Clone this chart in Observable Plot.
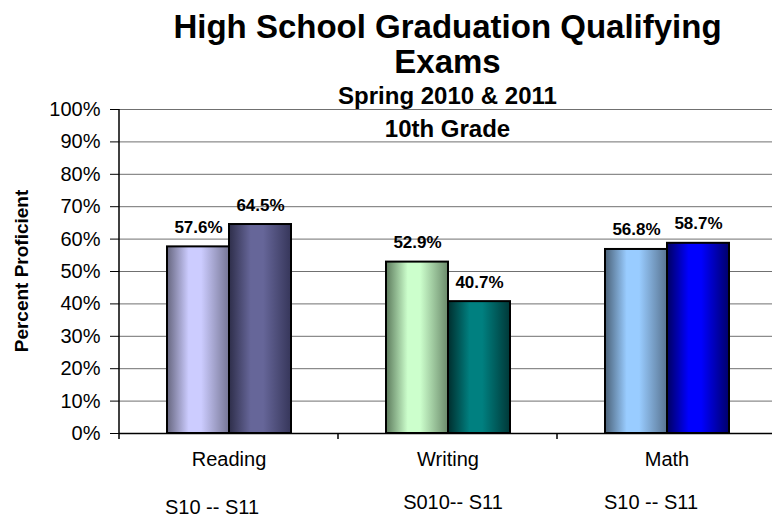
<!DOCTYPE html>
<html>
<head>
<meta charset="utf-8">
<script src="https://cdn.jsdelivr.net/npm/d3@7"></script>
<script src="https://cdn.jsdelivr.net/npm/@observablehq/plot@0.6"></script>
<style>
  html, body { margin: 0; padding: 0; background: white; }
  #chart { width: 772px; height: 518px; overflow: hidden; }
</style>
</head>
<body>
<div id="chart"></div>
<script>
// ---- Data ----
const categories = ["Reading", "Writing", "Math"];
const years = ["2010", "2011"];
const values2010 = [57.6, 52.9, 56.8];
const values2011 = [64.5, 40.7, 58.7];
const periodLabels = ["S10 -- S11", "S010-- S11", "S10 -- S11"];
const yTicks = [0, 10, 20, 30, 40, 50, 60, 70, 80, 90, 100];
const titleLines = ["High School Graduation Qualifying", "Exams"];
const subtitleLines = ["Spring 2010 & 2011", "10th Grade"];
const yLabel = "Percent Proficient";

// ---- Styles (gradient palette: edge, light, edge) ----
const palette = {
  "Reading-2010": ["#66667f", "#ccccff", "#777795"],
  "Reading-2011": ["#2e2e4a", "#666699", "#36365a"],
  "Writing-2010": ["#5c7a5c", "#ccffcc", "#6b8a6b"],
  "Writing-2011": ["#002e2e", "#008080", "#003838"],
  "Math-2010":    ["#4a6178", "#99ccff", "#587390"],
  "Math-2011":    ["#000060", "#0000ff", "#00006a"]
};
// small hand offsets of the free-floating period labels (style only)
const periodOffsets = {Reading: [-17, 80], Writing: [5, 75], Math: [-16, 75]};

const table = categories.flatMap((c, i) => [
  {category: c, year: years[0], value: values2010[i], period: periodLabels[i]},
  {category: c, year: years[1], value: values2011[i], period: periodLabels[i]}
]);

const gradId = d => `grad-${d.category}-${d.year}`;

const plot = Plot.plot({
  width: 772,
  height: 518,
  marginLeft: 119,
  marginRight: -4,
  marginTop: 109,
  marginBottom: 85,
  style: {fontFamily: "Arial, 'Liberation Sans', sans-serif", fontSize: "20px", color: "black", background: "white", overflow: "visible"},
  facet: {data: table, x: "category"},
  fx: {domain: categories, padding: 0, label: null, tickSize: 0, tickPadding: 18},
  x: {domain: years, paddingInner: 0, paddingOuter: 0.766, axis: null},
  y: {domain: [0, 100], ticks: yTicks, tickFormat: d => d + "%", tickSize: 9, tickPadding: 10, label: null},
  color: {type: "identity"},
  marks: [
    Plot.ruleY(yTicks.filter(t => t > 0), {stroke: "#707070", strokeWidth: 1}),
    Plot.barY(table, {x: "year", y: "value", fill: d => `url(#${gradId(d)})`, stroke: "black", strokeWidth: 2}),
    Plot.ruleY([0], {stroke: "black", strokeWidth: 1.5}),
    Plot.text(table, {x: "year", y: "value", text: d => d.value.toFixed(1) + "%", dy: -14, lineAnchor: "bottom", fontWeight: "bold", fontSize: 17}),
    ...categories.map(c => Plot.text(table, {
      filter: d => d.year === years[0] && d.category === c,
      text: "period", frameAnchor: "bottom", lineAnchor: "bottom",
      dx: periodOffsets[c][0], dy: periodOffsets[c][1]
    }))
  ]
});

document.getElementById("chart").appendChild(plot);

// ---- Decorations derived from the plot's scales ----
const svg = d3.select(plot.tagName.toLowerCase() === "svg" ? plot : plot.querySelector("svg"));
const defs = svg.insert("defs", ":first-child");
table.forEach(d => {
  const [e1, l, e2] = palette[`${d.category}-${d.year}`];
  const g = defs.append("linearGradient").attr("id", gradId(d)).attr("x1", 0).attr("x2", 1).attr("y1", 0).attr("y2", 0);
  g.append("stop").attr("offset", "0%").attr("stop-color", e1);
  g.append("stop").attr("offset", "35%").attr("stop-color", l);
  g.append("stop").attr("offset", "55%").attr("stop-color", l);
  g.append("stop").attr("offset", "100%").attr("stop-color", e2);
});

const fx = plot.scale("fx");
const y = plot.scale("y");
const x0 = fx.range[0], x1 = fx.range[1];
const cx = (x0 + x1) / 2;

// y axis line
svg.append("line").attr("x1", x0).attr("x2", x0).attr("y1", y.apply(100)).attr("y2", y.apply(0))
  .attr("stroke", "black").attr("stroke-width", 1.5);
// category boundary ticks
const bounds = categories.map(c => fx.apply(c)).concat([fx.apply(categories[categories.length - 1]) + fx.bandwidth]);
bounds.forEach(b => {
  svg.append("line").attr("x1", b).attr("x2", b).attr("y1", y.apply(0)).attr("y2", y.apply(0) + 6)
    .attr("stroke", "black").attr("stroke-width", 1.5);
});

// titles
const tg = svg.append("g").attr("text-anchor", "middle").attr("font-weight", "bold").attr("fill", "black")
  .attr("font-family", "Arial, 'Liberation Sans', sans-serif");
tg.append("text").attr("x", cx).attr("y", 38).attr("font-size", 33).text(titleLines[0]);
tg.append("text").attr("x", cx).attr("y", 73).attr("font-size", 33).text(titleLines[1]);
tg.append("text").attr("x", cx).attr("y", 104).attr("font-size", 24).text(subtitleLines[0]);
tg.append("text").attr("x", cx).attr("y", 137).attr("font-size", 24).text(subtitleLines[1]);

// y label
svg.append("text")
  .attr("transform", `translate(28,${(y.apply(0) + y.apply(100)) / 2}) rotate(-90)`)
  .attr("text-anchor", "middle").attr("font-weight", "bold").attr("font-size", 19)
  .attr("font-family", "Arial, 'Liberation Sans', sans-serif").text(yLabel);
</script>
</body>
</html>
